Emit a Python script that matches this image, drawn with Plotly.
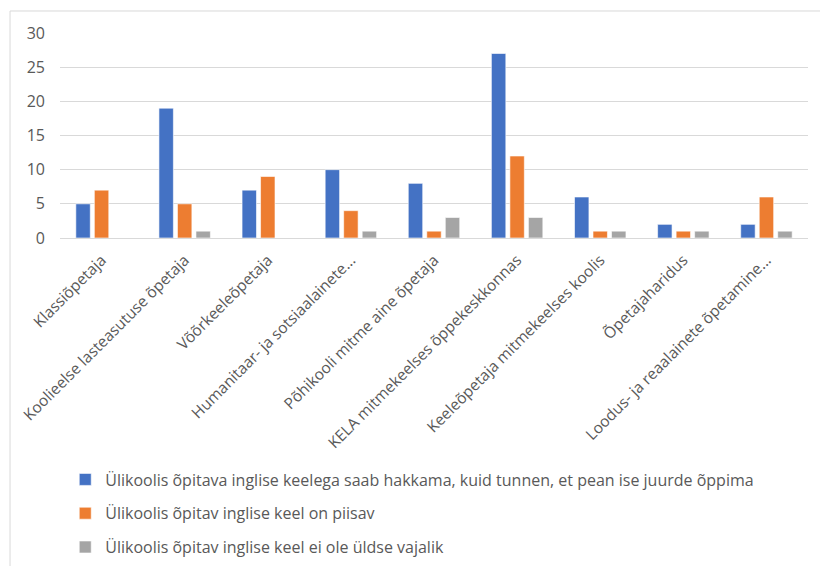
import plotly.graph_objects as go

categories = [
    "Klassiõpetaja",
    "Koolieelse lasteasutuse õpetaja",
    "Võõrkeeleõpetaja",
    "Humanitaar- ja sotsiaalainete...",
    "Põhikooli mitme aine õpetaja",
    "KELA mitmekeelses õppekeskkonnas",
    "Keeleõpetaja mitmekeelses koolis",
    "Õpetajaharidus",
    "Loodus- ja reaalainete õpetamine...",
]

series_names = [
    "Ülikoolis õpitava inglise keelega saab hakkama, kuid tunnen, et pean ise juurde õppima",
    "Ülikoolis õpitav inglise keel on piisav",
    "Ülikoolis õpitav inglise keel ei ole üldse vajalik",
]

need_more = [5, 19, 7, 10, 8, 27, 6, 2, 2]
sufficient = [7, 5, 9, 4, 1, 12, 1, 1, 6]
not_needed = [0, 1, 0, 1, 3, 3, 1, 1, 1]

series_values = [need_more, sufficient, not_needed]
colors = ["#4472C4", "#ED7D31", "#A5A5A5"]

y_ticks = [0, 5, 10, 15, 20, 25, 30]

text_color = "#595959"
grid_color = "#D9D9D9"
font_family = "Open Sans, Segoe UI, Calibri, sans-serif"

fig = go.Figure()
for i, (name, vals, col) in enumerate(zip(series_names, series_values, colors)):
    fig.add_trace(go.Bar(
        x=categories,
        y=vals,
        name=name,
        legendgroup=f"g{i}",
        marker=dict(color=col, line=dict(color="white", width=0.6)),
    ))

fig.update_layout(
    width=820,
    height=566,
    paper_bgcolor="white",
    plot_bgcolor="white",
    barmode="group",
    bargap=0.332,
    bargroupgap=0.22,
    margin=dict(l=60, r=12, t=33, b=0),
    font=dict(family=font_family, size=15, color=text_color),
    showlegend=True,
    legend=dict(
        x=0.007, y=0.1942, xanchor="left", yanchor="top",
        orientation="v",
        font=dict(size=16, color=text_color),
        tracegroupgap=10,
        itemwidth=30,
        bgcolor="rgba(0,0,0,0)",
    ),
    xaxis=dict(
        tickangle=-45,
        showgrid=False,
        showline=True,
        linecolor=grid_color,
        linewidth=1,
        ticks="",
        ticklabelstandoff=6,
        automargin=False,
        tickfont=dict(size=15.5, color=text_color),
    ),
    yaxis=dict(
        domain=[0.6154, 1],
        range=[0, 30],
        tickvals=y_ticks,
        showgrid=True,
        gridcolor=grid_color,
        gridwidth=1,
        zeroline=False,
        showline=False,
        ticks="",
        ticklabelstandoff=14,
        automargin=False,
        tickfont=dict(size=16, color=text_color),
    ),
    shapes=[
        # chart frame (left and top edges)
        dict(type="line", xref="paper", yref="paper",
             x0=-0.0668, x1=-0.0668, y0=1.0413, y1=-0.1,
             line=dict(color=grid_color, width=1)),
        dict(type="line", xref="paper", yref="paper",
             x0=-0.0668, x1=1.1, y0=1.0413, y1=1.0413,
             line=dict(color=grid_color, width=1)),
    ],
)

fig.write_html("out.html")
